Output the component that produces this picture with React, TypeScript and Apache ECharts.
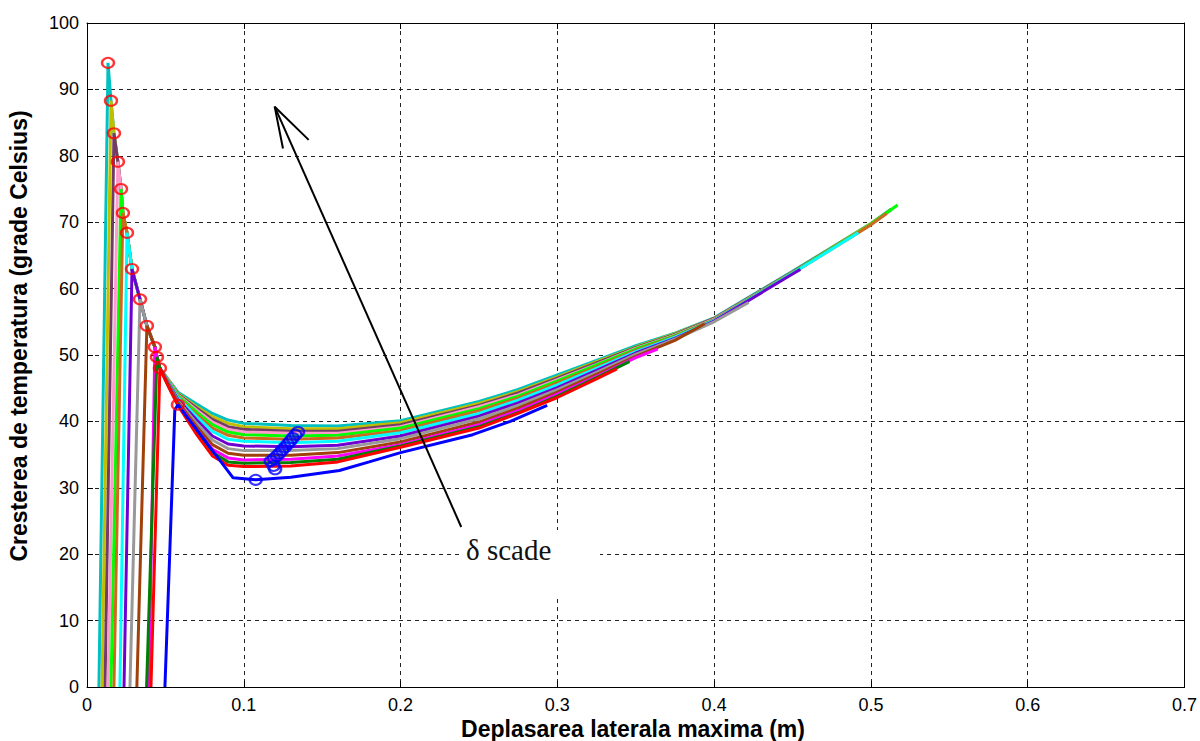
import React, { useEffect, useRef } from "react";
import * as echarts from "echarts";

// ---- data ----
const CURVE_COLORS = [
  "#00C0C0", "#BFBF00", "#733C67", "#FF9ACD", "#00FF00", "#CC6A1E", "#00FFFF",
  "#7000D0", "#999999", "#A0400A", "#FF00FF", "#008000", "#FF0000",
];
const START_X = [0.0076, 0.0096, 0.0115, 0.0134, 0.0153, 0.0172, 0.021, 0.0236, 0.0274, 0.0318, 0.0395, 0.038, 0.0408];
const PEAK_X = [0.0134, 0.0153, 0.0172, 0.0197, 0.0217, 0.0229, 0.0255, 0.0287, 0.0338, 0.0382, 0.0433, 0.0446, 0.0465];
const PEAK_Y = [94.0, 88.3, 83.4, 79.1, 75.0, 71.4, 68.4, 62.95, 58.4, 54.4, 51.2, 49.7, 48.0];
const FAN_X = [0.052, 0.058, 0.07, 0.08, 0.09, 0.1, 0.13, 0.16, 0.2, 0.25, 0.275, 0.3, 0.325, 0.35, 0.375, 0.4, 0.45, 0.5];
const FAN_Y_TEAL = [46.3, 44.4, 42.6, 41.2, 40.2, 39.7, 39.4, 39.3, 40.1, 43.0, 44.8, 47.0, 49.2, 51.4, 53.3, 55.6, 62.6, 69.8];
const FAN_Y_YELLOW = [46.2, 44.2, 42.2, 40.7, 39.7, 39.2, 38.9, 38.9, 39.8, 42.7, 44.5, 46.7, 49.0, 51.2, 53.2, 55.5, 62.5, 69.8];
const FAN_Y_PLUM = [46.1, 44.1, 42.0, 40.3, 39.2, 38.8, 38.5, 38.5, 39.5, 42.4, 44.3, 46.5, 48.8, 51.1, 53.1, 55.5, 62.5, 69.7];
const FAN_Y_PINK = [46.1, 44.0, 41.7, 39.9, 38.8, 38.4, 38.2, 38.2, 39.2, 42.2, 44.0, 46.3, 48.6, 51.0, 53.0, 55.4, 62.4, 69.7];
const FAN_Y_GREEN = [46.0, 43.9, 41.4, 39.5, 38.4, 38.0, 37.8, 37.9, 39.0, 41.9, 43.8, 46.1, 48.5, 50.9, 52.9, 55.3, 62.4, 69.7];
const FAN_Y_ORANGE = [45.9, 43.7, 41.0, 39.0, 37.9, 37.5, 37.3, 37.5, 38.6, 41.6, 43.5, 45.8, 48.2, 50.7, 52.8, 55.3, 62.3, 69.6];
const FAN_Y_CYAN = [45.8, 43.6, 40.7, 38.5, 37.3, 37.0, 36.8, 37.0, 38.3, 41.2, 43.2, 45.5, 48.0, 50.5, 52.7, 55.2, 62.3];
const FAN_Y_PURPLE = [45.7, 43.3, 40.2, 37.8, 36.6, 36.3, 36.2, 36.4, 37.8, 40.8, 42.8, 45.1, 47.7, 50.3, 52.5, 55.1, 62.2];
const FAN_Y_GRAY = [45.6, 43.1, 39.7, 37.2, 35.9, 35.6, 35.6, 35.9, 37.4, 40.4, 42.4, 44.8, 47.4, 50.1, 52.4, 55.0];
const FAN_Y_BROWN = [45.5, 42.9, 39.2, 36.5, 35.2, 34.9, 34.9, 35.3, 36.9, 39.9, 42.0, 44.4, 47.1, 49.8, 52.2];
const FAN_Y_MAGENTA = [45.4, 42.7, 38.7, 35.8, 34.5, 34.2, 34.3, 34.8, 36.5, 39.5, 41.6, 44.1, 46.8, 49.6];
const FAN_Y_DKGREEN = [45.3, 42.6, 38.4, 35.3, 33.9, 33.7, 33.8, 34.3, 36.3, 39.2, 41.3, 43.8, 46.6];
const FAN_Y_RED = [45.2, 42.4, 38.0, 34.8, 33.4, 33.2, 33.3, 33.9, 36.1, 39.0, 41.2, 43.6, 46.4];
const FAN_Y = [
  FAN_Y_TEAL, FAN_Y_YELLOW, FAN_Y_PLUM, FAN_Y_PINK, FAN_Y_GREEN, FAN_Y_ORANGE, FAN_Y_CYAN,
  FAN_Y_PURPLE, FAN_Y_GRAY, FAN_Y_BROWN, FAN_Y_MAGENTA, FAN_Y_DKGREEN, FAN_Y_RED,
];
const END_X = [0.513, 0.513, 0.513, 0.513, 0.517, 0.51, 0.492, 0.455, 0.422, 0.394, 0.364, 0.346, 0.338];
const END_Y = [72.0, 71.9, 71.9, 71.8, 72.6, 71.3, 68.4, 62.9, 57.9, 54.7, 50.9, 49.0, 47.9];

const BLUE_X = [0.0497, 0.0529, 0.056, 0.058, 0.0932, 0.1076, 0.13, 0.161, 0.18, 0.2, 0.246, 0.27, 0.2935];
const BLUE_Y = [0, 21, 41.7, 42.5, 31.5, 31.2, 31.6, 32.6, 33.9, 35.3, 38.0, 40.0, 42.4];
const BLUE_PEAK = [0.058, 42.5];

const MIN_X = [0.1346, 0.133, 0.1312, 0.1296, 0.128, 0.1262, 0.1245, 0.1228, 0.121, 0.1192, 0.1172, 0.119, 0.12, 0.1076];
const MIN_Y = [38.4, 38.0, 37.5, 37.0, 36.6, 36.1, 35.7, 35.2, 34.8, 34.4, 34.0, 33.3, 32.8, 31.2];

const ARROW_SHAFT = [[0.2387, 24.1], [0.1197, 87.4]];
const ARROW_HEAD = [[0.125, 81.1], [0.1197, 87.4], [0.1414, 82.4]];

const X_TICKS_MAX = 0.7;
const Y_TICKS_MAX = 100;
const X_TITLE = "Deplasarea laterala maxima (m)";
const Y_TITLE = "Cresterea de temperatura (grade Celsius)";
const NOTE = "δ scade";

const SANS = "'Liberation Sans', Arial, Helvetica, sans-serif";
const SERIF = "'Liberation Serif', 'Times New Roman', serif";

export default function App() {
  const ref = useRef<HTMLDivElement>(null);
  useEffect(() => {
    document.body.style.margin = "0";
    if (!ref.current) return;
    const chart = echarts.init(ref.current, undefined, { renderer: "svg" });

    const curveSeries: any[] = CURVE_COLORS.map((color, i) => {
      const data: number[][] = [[START_X[i], 0]];
      for (let k = i; k < PEAK_X.length; k++) data.push([PEAK_X[k], PEAK_Y[k]]);
      FAN_Y[i].forEach((y, k) => data.push([FAN_X[k], y]));
      data.push([END_X[i], END_Y[i]]);
      return {
        type: "line",
        data,
        symbol: "none",
        lineStyle: { color, width: 3 },
        silent: true,
        z: 3,
      };
    });

    const blueSeries = {
      type: "line",
      data: BLUE_X.map((x, k) => [x, BLUE_Y[k]]),
      symbol: "none",
      lineStyle: { color: "#0000FF", width: 3 },
      silent: true,
      z: 4,
    };

    const peakSeries = {
      type: "scatter",
      data: [...PEAK_X.map((x, k) => [x, PEAK_Y[k]]), BLUE_PEAK],
      symbol: "circle",
      symbolSize: [12, 10],
      itemStyle: { color: "rgba(0,0,0,0)", borderColor: "#FF0000", borderWidth: 2.2 },
      silent: true,
      z: 6,
    };

    const minSeries = {
      type: "scatter",
      data: MIN_X.map((x, k) => [x, MIN_Y[k]]),
      symbol: "circle",
      symbolSize: [12, 10],
      itemStyle: { color: "rgba(0,0,0,0)", borderColor: "#0000FF", borderWidth: 2.2 },
      silent: true,
      z: 6,
    };

    const arrowShaft = {
      type: "line",
      data: ARROW_SHAFT,
      symbol: "none",
      lineStyle: { color: "#000", width: 2 },
      silent: true,
      z: 7,
    };
    const arrowHead = {
      type: "line",
      data: ARROW_HEAD,
      symbol: "none",
      lineStyle: { color: "#000", width: 2 },
      silent: true,
      z: 7,
    };

    const tickStyle = { inside: true, length: 6, lineStyle: { color: "#000", width: 1 } };
    const axisLine = { show: true, onZero: false, lineStyle: { color: "#000", width: 1 } };
    const grid = { type: [4, 4], color: "#222", width: 1 };

    chart.setOption({
      animation: false,
      backgroundColor: "#fff",
      grid: { left: 87, right: 14, top: 23, bottom: 54, containLabel: false },
      xAxis: [
        {
          type: "value", min: 0, max: X_TICKS_MAX, interval: 0.1,
          axisLine, axisTick: tickStyle,
          axisLabel: { color: "#000", fontSize: 18, fontFamily: SANS, margin: 9 },
          splitLine: { show: true, lineStyle: grid },
        },
        {
          type: "value", position: "top", min: 0, max: X_TICKS_MAX, interval: 0.1,
          axisLine, axisTick: tickStyle, axisLabel: { show: false }, splitLine: { show: false },
        },
      ],
      yAxis: [
        {
          type: "value", min: 0, max: Y_TICKS_MAX, interval: 10,
          axisLine, axisTick: tickStyle,
          axisLabel: { color: "#000", fontSize: 18, fontFamily: SANS, margin: 8 },
          splitLine: { show: true, lineStyle: grid },
        },
        {
          type: "value", position: "right", min: 0, max: Y_TICKS_MAX, interval: 10,
          axisLine, axisTick: tickStyle, axisLabel: { show: false }, splitLine: { show: false },
        },
      ],
      series: [...curveSeries, blueSeries, peakSeries, minSeries, arrowShaft, arrowHead],
      graphic: [
        {
          type: "rect",
          shape: { x: 463, y: 530, width: 137, height: 68 },
          style: { fill: "#fff" },
          z: 50,
          silent: true,
        },
        {
          type: "text",
          x: 466,
          y: 550,
          z: 51,
          style: {
            text: NOTE,
            font: `29px ${SERIF}`,
            fill: "#111",
            align: "left",
            verticalAlign: "middle",
          },
        },
        {
          type: "text",
          x: 633,
          y: 729,
          z: 51,
          style: {
            text: X_TITLE,
            font: `bold 23px ${SANS}`,
            fill: "#000",
            align: "center",
            verticalAlign: "middle",
          },
        },
        {
          type: "text",
          x: 19,
          y: 336,
          rotation: Math.PI / 2,
          z: 51,
          style: {
            text: Y_TITLE,
            font: `bold 23px ${SANS}`,
            fill: "#000",
            align: "center",
            verticalAlign: "middle",
          },
        },
      ],
    });
    return () => chart.dispose();
  }, []);
  return <div ref={ref} style={{ width: 1200, height: 741 }} />;
}
